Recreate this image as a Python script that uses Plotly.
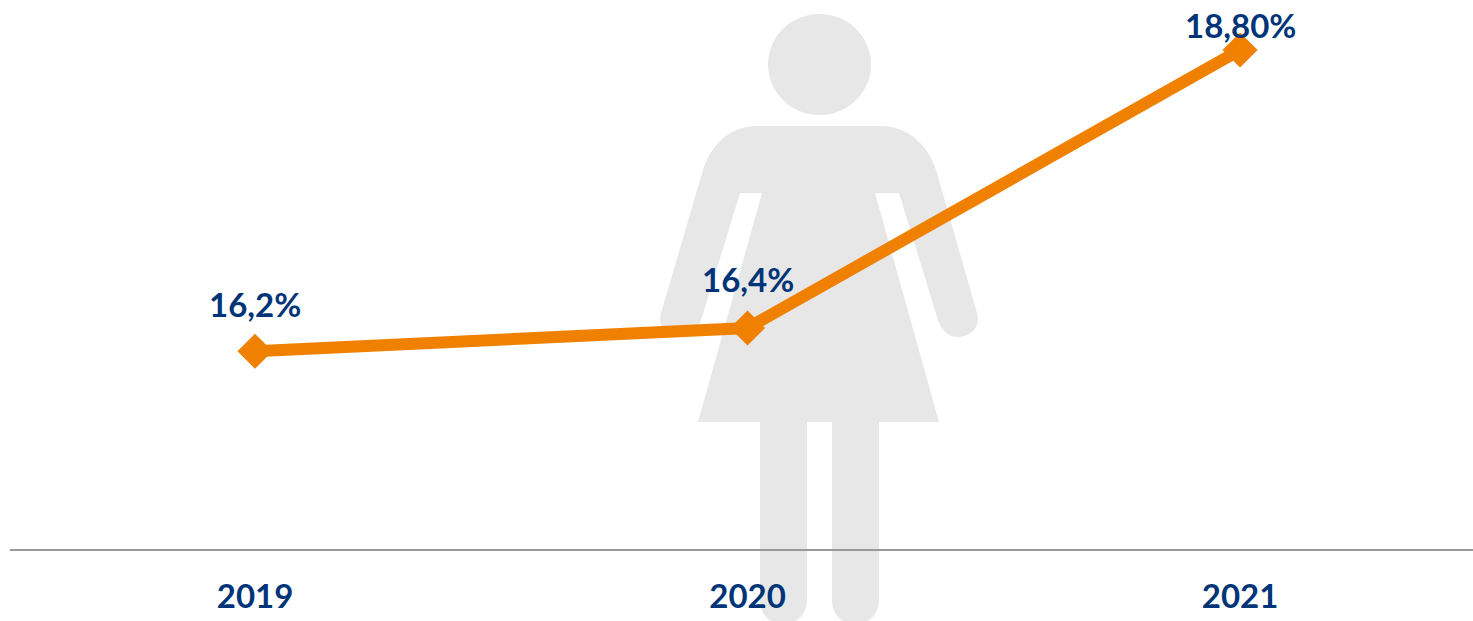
import plotly.graph_objects as go

years = ["2019", "2020", "2021"]
values = [16.2, 16.4, 18.8]
labels = ["16,2%", "16,4%", "18,80%"]
label_lift = [47, 49, 25]

W, H = 1473, 621
ML, MR, MT, MB = 10, 0, 0, 72
PW, PH = W - ML - MR, H - MT - MB


def px(x):
    return (x - ML) / PW


def py(y):
    return 1 - (y - MT) / PH


def path(cmds):
    out = []
    for cmd in cmds:
        op, pts = cmd[0], cmd[1:]
        out.append(op + " " + " ".join(f"{px(a):.5f},{py(b):.5f}" for a, b in pts))
    return " ".join(out) + " Z"


body = path([
    ("M", (757, 126)), ("L", (880, 126)),
    ("C", (908, 126), (928, 145), (936, 170)),
    ("L", (977, 313)),
    ("C", (981, 328), (970, 337), (957, 337)),
    ("C", (947, 337), (940, 328), (937, 317)),
    ("L", (899, 193)), ("L", (875, 193)), ("L", (939, 422)), ("L", (879, 422)), ("L", (879, 600)),
    ("C", (879, 615), (868, 624), (855, 624)),
    ("C", (842, 624), (832, 615), (832, 600)),
    ("L", (832, 422)), ("L", (807, 422)), ("L", (807, 600)),
    ("C", (807, 615), (796, 624), (783, 624)),
    ("C", (770, 624), (760, 615), (760, 600)),
    ("L", (760, 422)), ("L", (698, 422)), ("L", (762, 193)), ("L", (740, 193)), ("L", (702, 317)),
    ("C", (699, 328), (692, 337), (681, 337)),
    ("C", (668, 337), (657, 328), (661, 313)),
    ("L", (703, 170)),
    ("C", (711, 145), (730, 126), (757, 126)),
])

fig = go.Figure(go.Scatter(
    x=years, y=values, mode="lines+markers",
    line=dict(color="#F08000", width=12),
    marker=dict(symbol="diamond", size=27, color="#F08000"),
    hoverinfo="skip", showlegend=False,
))

for i, (v, t, lift) in enumerate(zip(values, labels, label_lift)):
    fig.add_annotation(x=i, y=v, text=f"<b>{t}</b>", showarrow=False, yshift=lift,
                       yanchor="middle", font=dict(family="Lato", size=33, color="#003478"))

fig.update_layout(
    width=W, height=H, autosize=False,
    margin=dict(l=ML, r=MR, t=MT, b=MB, pad=0, autoexpand=False),
    paper_bgcolor="white", plot_bgcolor="rgba(0,0,0,0)",
    showlegend=False,
    shapes=[
        dict(type="circle", xref="paper", yref="paper", layer="below",
             x0=px(768), x1=px(871), y0=py(115), y1=py(14),
             fillcolor="#E7E7E7", line_width=0),
        dict(type="path", xref="paper", yref="paper", layer="below", path=body,
             fillcolor="#E7E7E7", line_width=0),
    ],
    xaxis=dict(type="category", range=[-0.4975, 2.473], showgrid=False, zeroline=False,
               automargin=False,
               showline=True, linecolor="#999999", linewidth=2, ticks="",
               tickfont=dict(family="Lato", size=33, color="#003478"),
               tickvals=years, ticktext=[f"<b>{y}</b>" for y in years],
               ticklabelstandoff=17),
    yaxis=dict(range=[14.493, 19.231], visible=False),
)

fig.write_html("out.html", config={"displayModeBar": False},
               post_script="document.body.style.margin='0';")
